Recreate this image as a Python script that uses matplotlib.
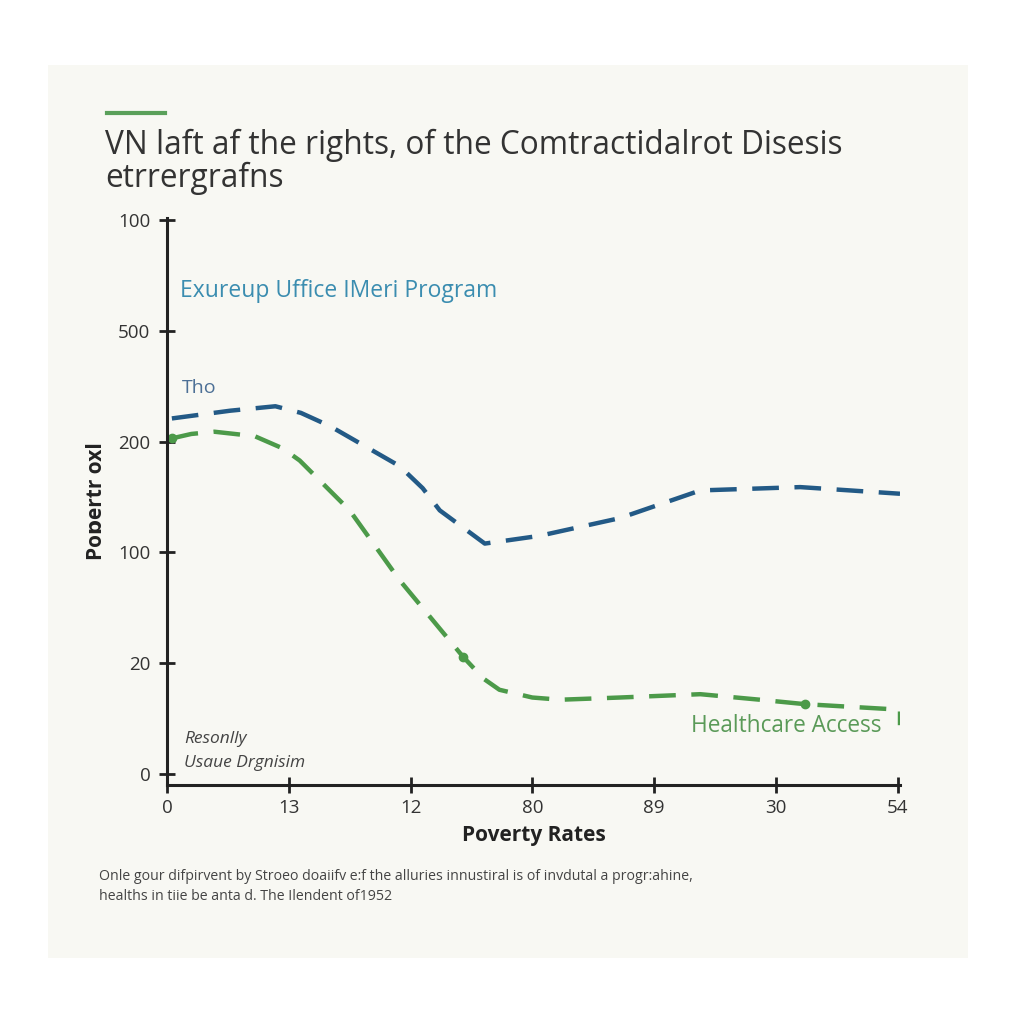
import numpy as np
import matplotlib.pyplot as plt
from matplotlib.patches import Rectangle
from matplotlib.lines import Line2D

# tick labels as printed on the chart (positions are just the index)
x_labels = ["0", "13", "12", "80", "89", "30", "54"]
y_labels = ["0", "20", "100", "200", "500", "100"]

# series, in tick-index units
blue_x = [0.04, 0.52, 0.89, 1.10, 1.34, 1.91, 2.10, 2.24, 2.61, 3.06, 3.72, 4.38, 5.20, 6.02]
blue_y = [3.21, 3.28, 3.32, 3.26, 3.14, 2.78, 2.58, 2.38, 2.08, 2.15, 2.31, 2.56, 2.59, 2.53]
green_x = [0.04, 0.20, 0.39, 0.72, 0.95, 1.09, 1.50, 1.91, 2.43, 2.60, 2.73, 3.00, 3.23, 3.72, 4.38, 4.87, 5.24, 6.02, 6.02]
green_y = [3.03, 3.07, 3.09, 3.05, 2.94, 2.83, 2.38, 1.75, 1.06, 0.86, 0.76, 0.69, 0.67, 0.69, 0.72, 0.67, 0.63, 0.58, 0.44]
green_dots_x = [0.04, 2.43, 5.24]
green_dots_y = [3.03, 1.06, 0.63]

blue = "#235a86"
green = "#4c9a49"
panel = "#f8f8f3"

plt.rcParams['font.family'] = ['Open Sans', 'DejaVu Sans']

fig = plt.figure(figsize=(10.24, 10.24), dpi=100)
fig.patch.set_facecolor("white")
fig.patches.append(Rectangle((48/1024, 1-958/1024), 920/1024, 893/1024,
                             transform=fig.transFigure, facecolor=panel,
                             edgecolor="none", zorder=-5))

ax = fig.add_axes([167/1024, 1-785/1024, 733/1024, 567/1024])
ax.set_zorder(2)
ax.patch.set_alpha(0)

ax.plot(blue_x, blue_y, color=blue, lw=3.2, dashes=(6, 3.5), solid_joinstyle="round")
ax.plot(green_x, green_y, color=green, lw=3.2, dashes=(6, 3.5), solid_joinstyle="round")
ax.plot(green_dots_x, green_dots_y, "o", color=green, ms=6)

ax.set_xlim(0, 6.02)
ax.set_ylim(-0.1, 5.02)
ax.set_xticks(range(len(x_labels)))
ax.set_xticklabels(x_labels)
ax.set_yticks(range(len(y_labels)))
ax.set_yticklabels(y_labels)

for s in ["top", "right"]:
    ax.spines[s].set_visible(False)
for s in ["left", "bottom"]:
    ax.spines[s].set_linewidth(2.2)
    ax.spines[s].set_color("#222222")
ax.tick_params(direction="inout", length=12, width=2, color="#222222",
               labelsize=13.5, labelcolor="#333333")
ax.tick_params(axis="y", pad=6)
ax.tick_params(axis="x", pad=4)

ax.set_xlabel("Poverty Rates", fontsize=15, fontweight="bold", color="#222222",
              labelpad=6)
ax.set_ylabel("Poɒertr oxl", fontsize=15, fontweight="bold", color="#222222",
              labelpad=8, family=['Open Sans', 'DejaVu Sans'])

# in-plot labels
ax.text(0.11, 4.31, "Exureup Uffice IMeri Program", color="#3b8db0", fontsize=16.5)
ax.text(0.12, 3.44, "Tho", color="#4d7096", fontsize=14)
ax.text(4.30, 0.38, "Healthcare Access", color="#5a9a58", fontsize=16.3)
ax.text(0.14, 0.28, "Resonlly", color="#444444", fontsize=12.5, style="italic")
ax.text(0.14, 0.06, "Usaue Drgnisim", color="#444444", fontsize=12.5, style="italic")

# title block
fig.add_artist(Line2D([107/1024, 165/1024], [1-113/1024, 1-113/1024],
                      color="#5aa05a", lw=3))
fig.text(105/1024, 1-145/1024, "VN laft af the rights, of the Comtractidalrot Disesis",
         fontsize=22.8, color="#333333", va="center")
fig.text(105/1024, 1-178/1024, "etrrergrafns", fontsize=22.8, color="#333333", va="center")

fig.text(99/1024, 1-877/1024,
         "Onle gour difpirvent by Stroeo doaiifv e:f the alluries innustiral is of invdutal a progr:ahine,",
         fontsize=10.2, color="#444444", va="center")
fig.text(99/1024, 1-897/1024, "healths in tiie be anta d. The Ilendent of1952",
         fontsize=10.2, color="#444444", va="center")

fig.savefig("out.png", dpi=100)
